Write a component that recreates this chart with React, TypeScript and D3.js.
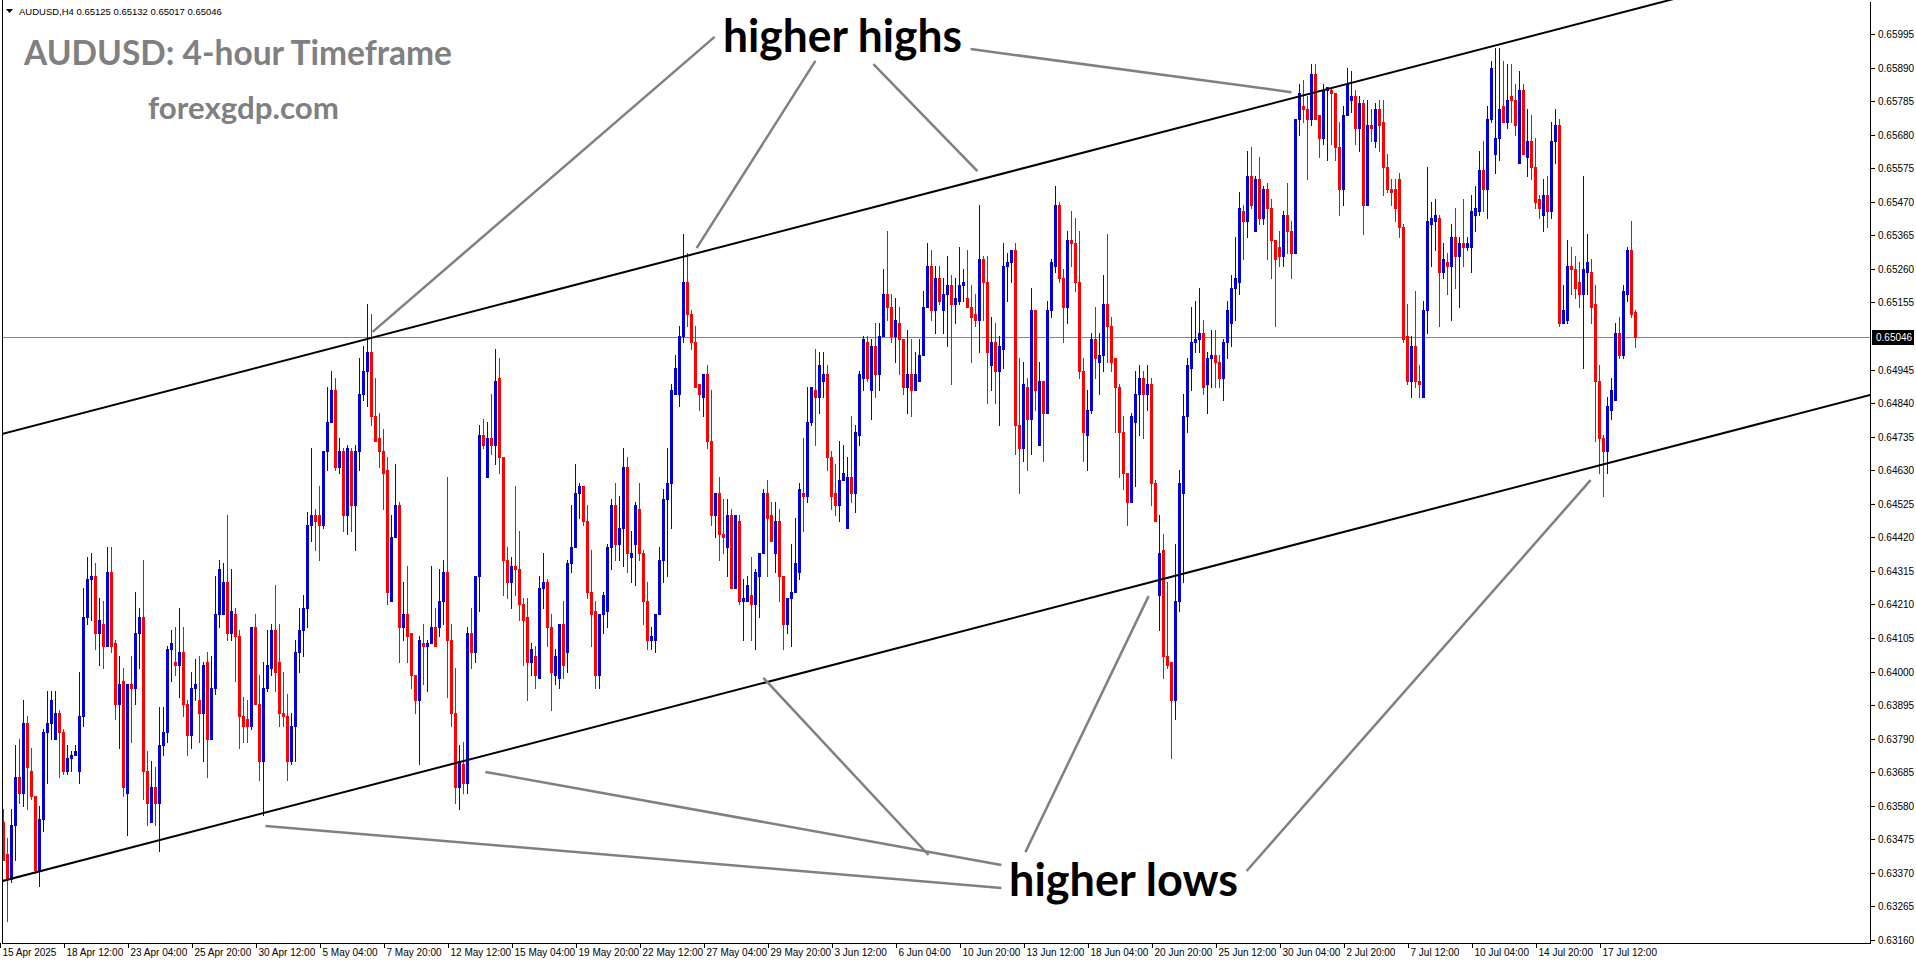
import React, { useEffect, useRef } from 'react'
import * as d3 from 'd3'

// AUDUSD H4 candles, values in pips (x 0.0001)
const openPips = [
  6353, 6343, 6335, 6352, 6367, 6362, 6384, 6369, 6361, 6338,
  6354, 6381, 6384, 6379, 6387, 6381, 6369, 6373, 6374, 6369,
  6386, 6417, 6429, 6430, 6412, 6415, 6408, 6431, 6409, 6390,
  6397, 6362, 6396, 6395, 6412, 6417, 6369, 6353, 6364, 6359,
  6377, 6381, 6407, 6403, 6402, 6406, 6390, 6380, 6395, 6391,
  6387, 6403, 6379, 6395, 6418, 6418, 6428, 6412, 6418, 6411,
  6386, 6385, 6383, 6414, 6390, 6372, 6395, 6401, 6413, 6403,
  6387, 6386, 6372, 6383, 6406, 6413, 6420, 6446, 6449, 6449,
  6446, 6469, 6478, 6488, 6464, 6469, 6449, 6469, 6452, 6469,
  6487, 6494, 6500, 6480, 6473, 6469, 6463, 6422, 6442, 6452,
  6414, 6418, 6412, 6399, 6391, 6409, 6408, 6409, 6414, 6414,
  6422, 6431, 6410, 6387, 6364, 6371, 6365, 6412, 6406, 6430,
  6474, 6461, 6473, 6471, 6492, 6467, 6435, 6428, 6433, 6432,
  6421, 6417, 6403, 6405, 6398, 6426, 6428, 6414, 6399, 6398,
  6415, 6406, 6434, 6439, 6456, 6458, 6447, 6425, 6419, 6399,
  6418, 6419, 6439, 6452, 6440, 6445, 6464, 6436, 6440, 6451,
  6437, 6422, 6410, 6410, 6418, 6435, 6454, 6459, 6487, 6487,
  6505, 6522, 6512, 6503, 6490, 6486, 6493, 6472, 6449, 6456,
  6443, 6439, 6449, 6426, 6447, 6422, 6422, 6424, 6421, 6430,
  6437, 6456, 6449, 6437, 6447, 6430, 6415, 6423, 6425, 6431,
  6456, 6455, 6478, 6488, 6486, 6491, 6493, 6467, 6456, 6452,
  6460, 6445, 6461, 6456, 6474, 6492, 6503, 6488, 6502, 6493,
  6505, 6518, 6514, 6505, 6509, 6504, 6489, 6493, 6488, 6491,
  6499, 6514, 6527, 6513, 6523, 6513, 6518, 6521, 6515, 6516,
  6521, 6517, 6514, 6512, 6510, 6529, 6522, 6496, 6503, 6494,
  6501, 6527, 6528, 6532, 6477, 6470, 6489, 6479, 6513, 6471,
  6491, 6481, 6513, 6527, 6546, 6523, 6514, 6535, 6534, 6522,
  6494, 6474, 6482, 6504, 6497, 6499, 6515, 6508, 6498, 6489,
  6475, 6462, 6453, 6478, 6487, 6492, 6487, 6490, 6459, 6424,
  6438, 6405, 6403, 6391, 6422, 6456, 6480, 6495, 6503, 6504,
  6506, 6490, 6498, 6499, 6497, 6492, 6503, 6509, 6520, 6522,
  6544, 6541, 6555, 6538, 6554, 6542, 6551, 6545, 6535, 6533,
  6530, 6543, 6538, 6531, 6573, 6577, 6576, 6573, 6587, 6574,
  6567, 6582, 6582, 6581, 6564, 6551, 6574, 6579, 6580, 6570,
  6578, 6546, 6571, 6566, 6576, 6572, 6558, 6551, 6551, 6554,
  6539, 6505, 6491, 6502, 6491, 6486, 6513, 6540, 6541, 6542,
  6525, 6528, 6527, 6536, 6530, 6534, 6533, 6533, 6543, 6544,
  6557, 6551, 6573, 6562, 6567, 6577, 6572, 6580, 6579, 6559,
  6582, 6561, 6566, 6558, 6548, 6543, 6549, 6544, 6566, 6571,
  6509, 6510, 6527, 6526, 6522, 6518, 6525, 6525, 6515, 6491,
  6473, 6469, 6482, 6485, 6506, 6499, 6518, 6532, 6512.5,
]

const highPips = [
  6357, 6348, 6357, 6377, 6379, 6391, 6386, 6376, 6361, 6358,
  6382, 6394, 6394, 6394, 6388, 6382, 6377, 6375, 6377, 6400,
  6426, 6436, 6437, 6434, 6423, 6422, 6439, 6439, 6410, 6405,
  6401, 6396, 6405, 6425, 6420, 6435, 6375, 6372, 6370, 6389,
  6389, 6408, 6413, 6414, 6420, 6414, 6391, 6400, 6404, 6405,
  6403, 6406, 6405, 6430, 6435, 6434, 6449, 6432, 6420, 6413,
  6392, 6391, 6414, 6418, 6399, 6403, 6413, 6415, 6427, 6415,
  6400, 6393, 6387, 6410, 6420, 6424, 6450, 6470, 6451, 6458,
  6469, 6489, 6494, 6492, 6473, 6470, 6471, 6470, 6471, 6498,
  6502, 6515, 6512, 6492, 6481, 6476, 6467, 6449, 6465, 6453,
  6428, 6433, 6412, 6399, 6411, 6415, 6410, 6433, 6420, 6432,
  6435, 6461, 6415, 6401, 6377, 6378, 6414, 6420, 6430, 6477,
  6479, 6478, 6487, 6501, 6498, 6467, 6439, 6436, 6458, 6444,
  6423, 6423, 6409, 6408, 6430, 6437, 6429, 6418, 6407, 6415,
  6422, 6435, 6452, 6465, 6459, 6458, 6452, 6438, 6422, 6418,
  6425, 6440, 6454, 6459, 6455, 6470, 6467, 6444, 6453, 6459,
  6438, 6428, 6414, 6418, 6439, 6457, 6470, 6490, 6499, 6508,
  6537, 6531, 6513, 6508, 6490, 6493, 6496, 6488, 6456, 6461,
  6454, 6454, 6451, 6449, 6449, 6429, 6430, 6436, 6432, 6437,
  6457, 6460, 6453, 6453, 6451, 6430, 6423, 6440, 6448, 6459,
  6473, 6489, 6489, 6501, 6500, 6500, 6496, 6469, 6465, 6472,
  6471, 6467, 6480, 6477, 6494, 6505, 6505, 6504, 6509, 6509,
  6526, 6538, 6518, 6517, 6514, 6504, 6507, 6504, 6500, 6504,
  6519, 6534, 6532, 6527, 6527, 6523, 6530, 6524, 6523, 6533,
  6526, 6532, 6521, 6518, 6546, 6530, 6530, 6511, 6509, 6505,
  6534, 6531, 6532, 6534, 6498, 6497, 6492, 6520, 6513, 6497,
  6491, 6516, 6529, 6552, 6547, 6526, 6538, 6544, 6542, 6538,
  6498, 6488, 6506, 6514, 6506, 6524, 6537, 6511, 6498, 6490,
  6480, 6462, 6481, 6494, 6496, 6494, 6496, 6492, 6460, 6449,
  6443, 6428, 6403, 6440, 6463, 6487, 6498, 6514, 6516, 6520,
  6510, 6500, 6507, 6507, 6499, 6504, 6516, 6524, 6536, 6550,
  6546, 6563, 6564, 6555, 6561, 6552, 6553, 6548, 6535, 6538,
  6544, 6553, 6541, 6573, 6584, 6585, 6580, 6590, 6590, 6574,
  6584, 6583, 6583, 6581, 6572, 6577, 6589, 6588, 6582, 6580,
  6579, 6579, 6576, 6578, 6579, 6579, 6562, 6554, 6554, 6556,
  6540, 6515, 6505, 6519, 6496, 6516, 6558, 6547, 6548, 6543,
  6534, 6531, 6540, 6545, 6536, 6548, 6536, 6549, 6552, 6563,
  6566, 6577, 6591, 6595, 6595, 6591, 6590, 6590, 6584, 6588,
  6584, 6576, 6574, 6567, 6549, 6554, 6555, 6572, 6576, 6573,
  6521, 6535, 6533, 6530, 6528, 6555, 6537, 6529, 6521, 6496,
  6474, 6486, 6492, 6509, 6511, 6521, 6533, 6541, 6513.2,
]

const lowPips = [
  6341, 6322, 6334, 6341, 6359, 6358, 6357, 6360, 6337, 6333,
  6350, 6365, 6379, 6379, 6367, 6368, 6368, 6369, 6374, 6365,
  6383, 6415, 6416, 6407, 6402, 6401, 6408, 6406, 6385, 6376,
  6361, 6349, 6378, 6390, 6401, 6360, 6352, 6353, 6352, 6344,
  6374, 6378, 6397, 6399, 6392, 6386, 6374, 6376, 6391, 6378,
  6372, 6367, 6379, 6393, 6414, 6418, 6410, 6410, 6397, 6376,
  6378, 6378, 6382, 6390, 6366, 6355, 6394, 6399, 6394, 6383,
  6383, 6366, 6371, 6372, 6400, 6405, 6414, 6441, 6438, 6435,
  6445, 6463, 6478, 6463, 6462, 6444, 6443, 6444, 6438, 6463,
  6485, 6483, 6477, 6472, 6464, 6451, 6421, 6422, 6442, 6403,
  6410, 6403, 6395, 6387, 6371, 6396, 6394, 6409, 6408, 6411,
  6415, 6392, 6383, 6359, 6357, 6362, 6362, 6401, 6403, 6419,
  6470, 6461, 6468, 6465, 6462, 6424, 6423, 6420, 6424, 6416,
  6402, 6391, 6399, 6395, 6398, 6420, 6408, 6388, 6396, 6395,
  6398, 6400, 6431, 6439, 6448, 6446, 6423, 6408, 6395, 6395,
  6412, 6414, 6432, 6435, 6435, 6433, 6431, 6428, 6427, 6435,
  6415, 6407, 6407, 6406, 6418, 6428, 6430, 6445, 6487, 6483,
  6503, 6508, 6501, 6489, 6482, 6480, 6470, 6446, 6442, 6435,
  6437, 6430, 6426, 6426, 6421, 6410, 6422, 6410, 6407, 6417,
  6437, 6430, 6441, 6431, 6422, 6407, 6412, 6408, 6425, 6429,
  6444, 6453, 6477, 6471, 6481, 6486, 6463, 6451, 6449, 6447,
  6460, 6445, 6453, 6450, 6471, 6488, 6491, 6479, 6486, 6488,
  6505, 6510, 6503, 6497, 6493, 6487, 6481, 6480, 6488, 6491,
  6499, 6514, 6510, 6506, 6515, 6506, 6502, 6490, 6509, 6515,
  6516, 6514, 6497, 6508, 6500, 6510, 6484, 6488, 6484, 6477,
  6495, 6516, 6522, 6468, 6456, 6466, 6463, 6468, 6482, 6471,
  6466, 6481, 6511, 6525, 6522, 6503, 6509, 6527, 6519, 6492,
  6466, 6463, 6481, 6492, 6487, 6494, 6497, 6494, 6475, 6461,
  6457, 6446, 6453, 6458, 6474, 6473, 6482, 6452, 6447, 6413,
  6398, 6401, 6373, 6385, 6419, 6428, 6475, 6488, 6500, 6500,
  6487, 6481, 6489, 6489, 6489, 6485, 6498, 6502, 6510, 6518,
  6529, 6536, 6545, 6538, 6540, 6540, 6529, 6523, 6508, 6527,
  6527, 6531, 6523, 6531, 6568, 6572, 6554, 6571, 6573, 6561,
  6565, 6560, 6565, 6560, 6543, 6546, 6574, 6575, 6565, 6563,
  6537, 6546, 6566, 6564, 6563, 6549, 6550, 6546, 6541, 6536,
  6503, 6490, 6486, 6489, 6486, 6486, 6506, 6527, 6532, 6508,
  6523, 6518, 6510, 6520, 6514, 6527, 6532, 6525, 6538, 6543,
  6544, 6542, 6572, 6556, 6560, 6572, 6570, 6572, 6568, 6559,
  6562, 6555, 6554, 6545, 6542, 6538, 6539, 6542, 6559, 6508,
  6509, 6509, 6518, 6517, 6514, 6495, 6518, 6509, 6472, 6462,
  6455, 6462, 6479, 6485, 6498, 6498, 6516, 6511, 6501.7,
]

const closePips = [
  6341, 6335, 6352, 6367, 6362, 6384, 6370, 6361, 6338, 6354,
  6381, 6384, 6391, 6387, 6381, 6369, 6373, 6374, 6375, 6386,
  6417, 6429, 6430, 6412, 6416, 6408, 6431, 6408, 6390, 6396,
  6364, 6396, 6395, 6412, 6417, 6369, 6359, 6364, 6359, 6377,
  6381, 6407, 6409, 6402, 6406, 6390, 6380, 6395, 6396, 6387,
  6402, 6379, 6395, 6418, 6432, 6428, 6412, 6419, 6411, 6386,
  6383, 6383, 6414, 6390, 6372, 6395, 6402, 6413, 6400, 6387,
  6386, 6372, 6383, 6406, 6413, 6420, 6446, 6449, 6447, 6446,
  6469, 6478, 6488, 6464, 6469, 6449, 6470, 6452, 6469, 6487,
  6494, 6500, 6480, 6472, 6469, 6462, 6425, 6442, 6452, 6414,
  6418, 6411, 6399, 6391, 6410, 6408, 6409, 6414, 6408, 6422,
  6431, 6410, 6387, 6364, 6372, 6365, 6412, 6406, 6430, 6474,
  6471, 6473, 6471, 6491, 6467, 6435, 6428, 6433, 6432, 6421,
  6416, 6403, 6407, 6399, 6426, 6428, 6414, 6400, 6405, 6415,
  6402, 6434, 6439, 6456, 6458, 6447, 6425, 6418, 6399, 6418,
  6424, 6439, 6452, 6440, 6445, 6464, 6437, 6437, 6452, 6437,
  6422, 6410, 6411, 6418, 6435, 6454, 6459, 6488, 6495, 6505,
  6522, 6512, 6503, 6489, 6487, 6493, 6472, 6449, 6456, 6443,
  6442, 6449, 6426, 6449, 6422, 6423, 6427, 6421, 6431, 6437,
  6456, 6448, 6441, 6447, 6430, 6415, 6423, 6425, 6434, 6457,
  6455, 6478, 6489, 6486, 6496, 6493, 6467, 6455, 6452, 6460,
  6462, 6461, 6456, 6475, 6493, 6504, 6492, 6502, 6493, 6505,
  6518, 6514, 6505, 6510, 6504, 6489, 6493, 6488, 6493, 6499,
  6514, 6527, 6513, 6523, 6516, 6518, 6521, 6515, 6517, 6521,
  6522, 6514, 6511, 6510, 6529, 6522, 6500, 6503, 6494, 6502,
  6527, 6528, 6532, 6477, 6470, 6490, 6479, 6513, 6488, 6491,
  6481, 6513, 6528, 6546, 6523, 6514, 6535, 6534, 6522, 6494,
  6475, 6482, 6504, 6498, 6499, 6515, 6508, 6497, 6489, 6475,
  6462, 6453, 6480, 6487, 6492, 6487, 6490, 6459, 6447, 6437,
  6405, 6402, 6391, 6422, 6459, 6480, 6496, 6503, 6504, 6506,
  6489, 6498, 6499, 6497, 6492, 6503, 6513, 6520, 6523, 6545,
  6541, 6555, 6546, 6554, 6542, 6551, 6545, 6535, 6529, 6530,
  6543, 6538, 6531, 6573, 6581, 6576, 6573, 6587, 6573, 6567,
  6582, 6583, 6581, 6564, 6551, 6574, 6584, 6580, 6570, 6578,
  6546, 6571, 6570, 6576, 6571, 6558, 6551, 6550, 6545, 6539,
  6504, 6491, 6502, 6491, 6490, 6513, 6541, 6542, 6543, 6525,
  6529, 6527, 6536, 6530, 6534, 6533, 6534, 6544, 6545, 6557,
  6551, 6573, 6589, 6567, 6576, 6572, 6579, 6579, 6571, 6582,
  6562, 6566, 6558, 6547, 6545, 6549, 6544, 6566, 6571, 6509,
  6513, 6527, 6526, 6520, 6518, 6526, 6528, 6514, 6491, 6473,
  6469, 6483, 6488, 6506, 6499, 6519, 6532, 6512, 6504.6,
]

// one label every 16 bars
const timeLabels = [
  '15 Apr 2025', '18 Apr 12:00', '23 Apr 04:00', '25 Apr 20:00', '30 Apr 12:00',
  '5 May 04:00', '7 May 20:00', '12 May 12:00', '15 May 04:00', '19 May 20:00',
  '22 May 12:00', '27 May 04:00', '29 May 20:00', '3 Jun 12:00', '6 Jun 04:00',
  '10 Jun 20:00', '13 Jun 12:00', '18 Jun 04:00', '20 Jun 20:00', '25 Jun 12:00',
  '30 Jun 04:00', '2 Jul 20:00', '7 Jul 12:00', '10 Jul 04:00', '14 Jul 20:00',
  '17 Jul 12:00',
]

const priceLabels = [
  '0.63160', '0.63265', '0.63370', '0.63475', '0.63580', '0.63685', '0.63790',
  '0.63895', '0.64000', '0.64105', '0.64210', '0.64315', '0.64420', '0.64525',
  '0.64630', '0.64735', '0.64840', '0.64945', '0.65155', '0.65260', '0.65365',
  '0.65470', '0.65575', '0.65680', '0.65785', '0.65890', '0.65995',
]

const currentPrice = '0.65046'
const headerText = 'AUDUSD,H4  0.65125 0.65132 0.65017 0.65046'

// channel: [bar, price] pairs
const upperChannel = [[0, 0.64744], [400, 0.66047]]
const lowerChannel = [[0, 0.63345], [400, 0.64648]]

// annotation pointers: [bar, price] -> [bar, price]
const highsPointers = [
  [[177.9, 0.65986], [92.4, 0.65063]],
  [[203.1, 0.65911], [173.4, 0.65325]],
  [[217.6, 0.65901], [243.6, 0.65566]],
  [[241.9, 0.65948], [322.1, 0.65813]],
]
const lowsPointers = [
  [[249.6, 0.63323], [65.6, 0.63517]],
  [[249.6, 0.63395], [120.6, 0.63686]],
  [[231.4, 0.63426], [190.1, 0.6398]],
  [[255.6, 0.63435], [286.4, 0.64236]],
  [[310.9, 0.63376], [396.9, 0.64599]],
]

export default function App() {
  const svgRef = useRef<SVGSVGElement>(null)

  useEffect(() => {
    document.body.style.margin = '0'
    document.body.style.overflow = 'hidden'
    if (!svgRef.current) return

    const svg = d3.select(svgRef.current)
    svg.selectAll('*').remove()

    const W = 1916
    const H = 964
    const left = 2
    const right = 1870
    const bottom = 943
    const axisFont = "'Liberation Sans', Arial, sans-serif"
    const overlayFont = "Lato, 'Open Sans', sans-serif"

    // 4 px per bar
    const x = d3.scaleLinear().domain([0, 1]).range([3, 7])
    const y = d3.scaleLinear().domain([0.6316, 0.65995]).range([940, 34])

    svg.append('rect').attr('width', W).attr('height', H).attr('fill', '#fff')

    svg.append('defs').append('clipPath').attr('id', 'plot-clip')
      .append('rect')
      .attr('x', left).attr('y', 0)
      .attr('width', right - left).attr('height', bottom)

    const plot = svg.append('g').attr('clip-path', 'url(#plot-clip)')

    // current price line
    const cy = Math.round(y(+currentPrice)) + 0.5
    plot.append('line')
      .attr('x1', left).attr('x2', right)
      .attr('y1', cy).attr('y2', cy)
      .attr('stroke', '#7b8794').attr('stroke-width', 1)

    // candles
    const candles = openPips.map((o, i) => {
      const open = o / 1e4
      const close = closePips[i] / 1e4
      return {
        i,
        open,
        close,
        high: Math.max(highPips[i] / 1e4, open, close),
        low: Math.min(lowPips[i] / 1e4, open, close),
      }
    })

    const cg = plot.append('g').attr('shape-rendering', 'crispEdges')
    candles.forEach((d) => {
      const color = d.close >= d.open ? '#0000d8' : '#ff0000'
      const cx = Math.round(x(d.i))
      const yh = Math.round(y(d.high))
      const yl = Math.round(y(d.low))
      cg.append('rect')
        .attr('x', cx).attr('y', yh)
        .attr('width', 1).attr('height', Math.max(1, yl - yh + 1))
        .attr('fill', color)
      const yt = Math.round(y(Math.max(d.open, d.close)))
      const yb = Math.round(y(Math.min(d.open, d.close)))
      cg.append('rect')
        .attr('x', cx - 1).attr('y', yt)
        .attr('width', 3).attr('height', Math.max(1, yb - yt + 1))
        .attr('fill', color)
    })

    // channel lines, extended across the whole plot
    const extend = (pts: number[][]) => {
      const [[b0, p0], [b1, p1]] = pts
      const m = (p1 - p0) / (b1 - b0)
      return [[-5, p0 + m * (-5 - b0)], [480, p0 + m * (480 - b0)]]
    }
    const lineGen = d3.line<number[]>().x((d) => x(d[0])).y((d) => y(d[1]))
    ;[upperChannel, lowerChannel].forEach((c) => {
      plot.append('path')
        .attr('d', lineGen(extend(c)))
        .attr('fill', 'none')
        .attr('stroke', '#000')
        .attr('stroke-width', 2)
    })

    // annotation pointers
    ;[...highsPointers, ...lowsPointers].forEach((p) => {
      plot.append('path')
        .attr('d', lineGen(p))
        .attr('fill', 'none')
        .attr('stroke', '#808080')
        .attr('stroke-width', 2.5)
    })

    // frame
    const frame = svg.append('g').attr('stroke', '#000').attr('shape-rendering', 'crispEdges')
    frame.append('line').attr('x1', left + 0.5).attr('x2', left + 0.5).attr('y1', 0).attr('y2', bottom + 1)
    frame.append('line').attr('x1', right + 0.5).attr('x2', right + 0.5).attr('y1', 2).attr('y2', bottom + 1)
    frame.append('line').attr('x1', left).attr('x2', right + 1).attr('y1', bottom + 0.5).attr('y2', bottom + 0.5)

    // price axis
    const pa = svg.append('g')
    priceLabels.forEach((t) => {
      const ty = Math.round(y(+t)) + 0.5
      pa.append('line')
        .attr('x1', right).attr('x2', right + 5)
        .attr('y1', ty).attr('y2', ty)
        .attr('stroke', '#000').attr('shape-rendering', 'crispEdges')
      pa.append('text')
        .attr('x', right + 8).attr('y', ty + 3.5)
        .attr('font-family', axisFont).attr('font-size', 10)
        .attr('fill', '#000')
        .text(t)
    })
    pa.append('rect')
      .attr('x', right + 2).attr('y', cy - 7.5)
      .attr('width', 42).attr('height', 15)
      .attr('fill', '#000')
    pa.append('text')
      .attr('x', right + 6).attr('y', cy + 3.5)
      .attr('font-family', axisFont).attr('font-size', 10)
      .attr('fill', '#fff')
      .text(currentPrice)

    // time axis
    const ta = svg.append('g')
    timeLabels.forEach((t, k) => {
      const tx = Math.round(x(k * 16)) - 3 + 0.5
      ta.append('line')
        .attr('x1', tx).attr('x2', tx)
        .attr('y1', bottom).attr('y2', bottom + 5)
        .attr('stroke', '#000').attr('shape-rendering', 'crispEdges')
      ta.append('text')
        .attr('x', tx + 2).attr('y', bottom + 13)
        .attr('font-family', axisFont).attr('font-size', 10)
        .attr('fill', '#000')
        .text(t)
    })

    // header
    svg.append('path').attr('d', 'M6,9 L13,9 L9.5,13 Z').attr('fill', '#000')
    svg.append('text')
      .attr('x', 19).attr('y', 15)
      .attr('font-family', axisFont).attr('font-size', 9.5)
      .attr('fill', '#000')
      .text(headerText)

    // overlay titles
    svg.append('text')
      .attr('x', 24).attr('y', 65)
      .attr('font-family', overlayFont).attr('font-weight', 700).attr('font-size', 34)
      .attr('fill', '#808080')
      .attr('textLength', 428).attr('lengthAdjust', 'spacingAndGlyphs')
      .text('AUDUSD: 4-hour Timeframe')
    svg.append('text')
      .attr('x', 148).attr('y', 119)
      .attr('font-family', overlayFont).attr('font-weight', 700).attr('font-size', 31)
      .attr('fill', '#808080')
      .attr('textLength', 191).attr('lengthAdjust', 'spacingAndGlyphs')
      .text('forexgdp.com')

    svg.append('text')
      .attr('x', x(180)).attr('y', y(0.65939))
      .attr('font-family', overlayFont).attr('font-weight', 700).attr('font-size', 45)
      .attr('fill', '#000')
      .attr('textLength', 239).attr('lengthAdjust', 'spacingAndGlyphs')
      .text('higher highs')
    svg.append('text')
      .attr('x', x(251.5)).attr('y', y(0.63298))
      .attr('font-family', overlayFont).attr('font-weight', 700).attr('font-size', 45)
      .attr('fill', '#000')
      .attr('textLength', 229).attr('lengthAdjust', 'spacingAndGlyphs')
      .text('higher lows')
  }, [])

  return <svg ref={svgRef} width={1916} height={964} style={{ display: 'block' }} />
}
